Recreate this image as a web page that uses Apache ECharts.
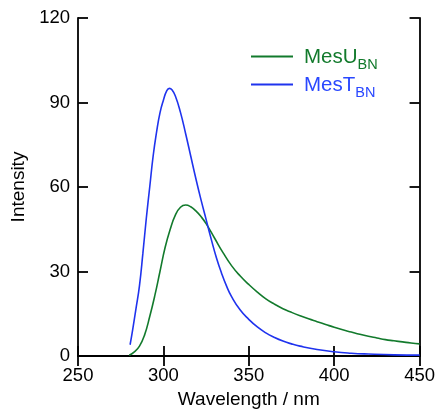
<!DOCTYPE html>
<html><head><meta charset="utf-8">
<script src="https://cdn.jsdelivr.net/npm/echarts@6/dist/echarts.min.js"></script>
<style>html,body{margin:0;padding:0;background:#fff}#c{width:438px;height:414px}</style>
</head><body><div id="c"></div>
<script>
var wavelengthU = [280,283,286,289,292,295,298,301,304,307,310,313,316,319,322,325,330,335,340,345,350,355,360,365,370,375,380,385,390,395,400,405,410,415,420,425,430,435,440,445,450];
var intensityU  = [0.3,1.5,3.5,7.5,14,21.5,30,38.5,45,50,52.8,53.6,53,51.5,49.5,47,41.8,36.6,32,28.4,25.4,22.7,20.3,18.4,16.8,15.5,14.3,13.2,12.2,11.2,10.2,9.3,8.5,7.7,7.0,6.4,5.8,5.4,5.0,4.6,4.3];
var wavelengthT = [280.5,282,284,286,288,290,292,294,296,298,300,302,303.5,305,307,310,313,316,319,322,325,328,331,334,337,340,345,350,355,360,365,370,375,380,390,400,410,420,435,450];
var intensityT  = [4,9.3,17,25,36.5,48.9,60,71,79.5,86.3,90.8,94.2,95,94.5,92.3,86.5,79,71,63,55.5,48.5,41.5,35,29.5,24.8,21,16.3,13,10.3,8.2,6.6,5.3,4.3,3.5,2.3,1.5,1,0.7,0.4,0.3];
var xTicks = [250, 450, 50];
var yTicks = [0, 120, 30];
var seriesNames = ['MesU', 'MesT'];
var subscripts = ['BN', 'BN'];
var colors = ['#127a2c', '#1f33ee'];
var legendColors = ['#127a2c', '#2a48ff'];

function pairs(xs, ys){ return xs.map(function(x,i){ return [x, ys[i]]; }); }

var FONT = '"Liberation Sans", Arial, sans-serif';
var chart = echarts.init(document.getElementById('c'), null, {renderer:'canvas'});
var axisLine = {show:true, lineStyle:{color:'#000', width:1.8}};
var axisTick = {show:true, inside:true, length:10, lineStyle:{color:'#000', width:1.8}};
var label = {color:'#000', fontSize:18.5, fontFamily:FONT};

function legendFor(i, top){
  return {
    data:[{name:seriesNames[i], icon:'rect', textStyle:{color:legendColors[i]}}],
    left:251, top:top, orient:'vertical', padding:0,
    itemWidth:42, itemHeight:1.8, itemGap:0,
    formatter:function(n){ return '{a|'+n+'}{b|'+subscripts[i]+'}'; },
    textStyle:{
      color:legendColors[i], fontFamily:FONT, padding:[0,0,0,6],
      rich:{
        a:{color:legendColors[i], fontSize:20.5, fontFamily:FONT, verticalAlign:'bottom', lineHeight:22},
        b:{color:legendColors[i], fontSize:14.5, fontFamily:FONT, verticalAlign:'bottom', padding:[0,0,-5,0], lineHeight:22}
      }
    }
  };
}

chart.setOption({
  animation:false,
  backgroundColor:'#fff',
  grid:{left:78, top:18, width:342, height:341, containLabel:false},
  legend:[legendFor(0, 46.5), legendFor(1, 74.5)],
  xAxis:[{
    type:'value', min:xTicks[0], max:xTicks[1], interval:xTicks[2], position:'bottom',
    name:'Wavelength / nm', nameLocation:'middle', nameGap:34,
    nameTextStyle:{color:'#000', fontSize:19, fontFamily:FONT},
    axisLine:axisLine, axisTick:axisTick, splitLine:{show:false},
    axisLabel:Object.assign({margin:10}, label)
  },{
    type:'value', min:xTicks[0], max:xTicks[1], interval:xTicks[2], position:'top',
    axisLine:axisLine, axisTick:axisTick, splitLine:{show:false}, axisLabel:{show:false}
  }],
  yAxis:[{
    type:'value', min:yTicks[0], max:yTicks[1], interval:yTicks[2], position:'left',
    name:'Intensity', nameLocation:'middle', nameGap:44,
    nameTextStyle:{color:'#000', fontSize:19, fontFamily:FONT},
    axisLine:axisLine, axisTick:axisTick, splitLine:{show:false},
    axisLabel:Object.assign({margin:8}, label)
  },{
    type:'value', min:yTicks[0], max:yTicks[1], interval:yTicks[2], position:'right',
    axisLine:axisLine, axisTick:axisTick, splitLine:{show:false}, axisLabel:{show:false}
  }],
  series:[{
    name:seriesNames[0], type:'line', smooth:0.5, symbol:'none',
    data:pairs(wavelengthU, intensityU),
    lineStyle:{color:colors[0], width:1.6}, itemStyle:{color:colors[0]}
  },{
    name:seriesNames[1], type:'line', smooth:0.5, symbol:'none',
    data:pairs(wavelengthT, intensityT),
    lineStyle:{color:colors[1], width:1.6}, itemStyle:{color:colors[1]}
  }]
});
</script></body></html>
